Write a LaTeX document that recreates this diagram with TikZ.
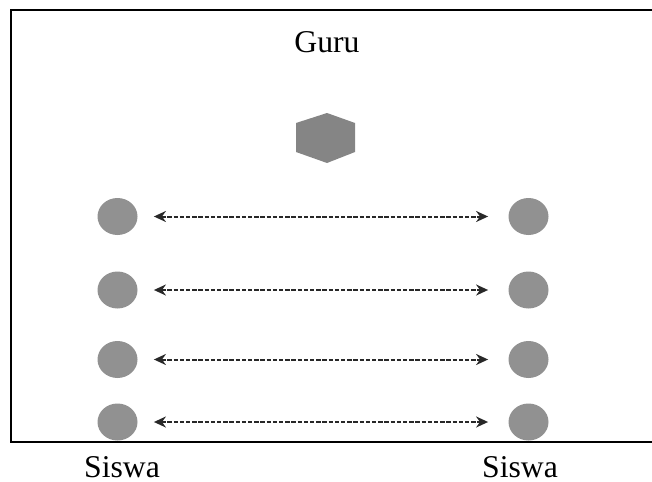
\documentclass[tikz,border=0pt]{standalone}
\usepackage{fontspec}
\setmainfont{Liberation Serif}
\usetikzlibrary{shapes.geometric,arrows.meta}
\definecolor{dotgray}{RGB}{145,145,145}
\definecolor{hexgray}{RGB}{133,133,133}
\definecolor{linkgray}{RGB}{40,40,40}

\begin{document}
\begin{tikzpicture}[
    x=0.5pt, y=-0.5pt,
    siswa/.style={ellipse, fill=dotgray, inner sep=0pt, minimum width=20pt, minimum height=18.5pt},
    link/.style={{Stealth[length=6pt,width=5.5pt]}-{Stealth[length=6pt,width=5.5pt]}, linkgray, line width=1pt, dash pattern=on 2.2pt off 0.9pt, shorten <=8pt, shorten >=10pt},
    label/.style={font=\fontsize{15.85}{19}\selectfont, anchor=base, inner sep=0pt}
]
\useasboundingbox (0,0) rectangle (652,481);

% frame (right side runs off the page)
\draw[line width=1pt] (652,10.5) -- (11,10.5) -- (11,442) -- (652,442);

% teacher
\node[label] (guru) at (327,53) {Guru};
\fill[hexgray] (327,113) -- (355,123) -- (355,152) -- (327,163) -- (296,152) -- (296,123) -- cycle;

% students in two columns
\foreach \row/\ypos in {1/216.5, 2/290, 3/359.5, 4/422} {
    \node[siswa] (l\row) at (117.5,\ypos) {};
    \node[siswa] (r\row) at (528.5,\ypos) {};
    \draw[link] (l\row) -- (r\row);
}

% labels
\node[label] (siswaL) at (122,477) {Siswa};
\node[label] (siswaR) at (520,477) {Siswa};

\end{tikzpicture}
\end{document}
